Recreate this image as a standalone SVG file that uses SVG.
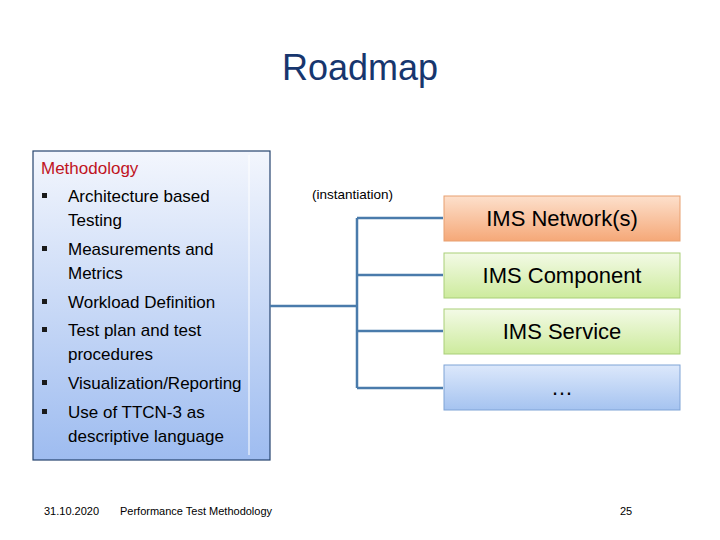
<svg xmlns="http://www.w3.org/2000/svg" width="720" height="540" viewBox="0 0 720 540">
<defs>
<linearGradient id="gL" x1="0" y1="0" x2="0" y2="1"><stop offset="0" stop-color="#f3f6fd"/><stop offset="1" stop-color="#9ebcf0"/></linearGradient>
<linearGradient id="gO" x1="0" y1="0" x2="0" y2="1"><stop offset="0" stop-color="#fde0cc"/><stop offset="1" stop-color="#f5a878"/></linearGradient>
<linearGradient id="gG" x1="0" y1="0" x2="0" y2="1"><stop offset="0" stop-color="#f3fae6"/><stop offset="1" stop-color="#cdeb9d"/></linearGradient>
<linearGradient id="gB" x1="0" y1="0" x2="0" y2="1"><stop offset="0" stop-color="#dce8fb"/><stop offset="1" stop-color="#a5c3f0"/></linearGradient>
</defs>
<style>
text{font-family:"Liberation Sans",Arial,sans-serif;fill:#000}
.li{font-size:17px}
.bx{font-size:22px;text-anchor:middle}
.c{stroke:#4a7bab;stroke-width:2.5;fill:none}
.bu{fill:#1a1a1a}
</style>
<rect width="720" height="540" fill="#fff"/>
<text x="360" y="80" font-size="36" text-anchor="middle" style="fill:#17366e">Roadmap</text>
<g id="methodology">
<rect x="33" y="151" width="237" height="309" fill="url(#gL)" stroke="#26446e" stroke-width="1.2"/>
<line x1="249" y1="155" x2="249" y2="455" stroke="#fff" stroke-width="1"/>
<text x="41" y="174" class="li" style="fill:#c0141e">Methodology</text>
<rect class="bu" x="42" y="193" width="5" height="5"/><text x="68" y="202" class="li">Architecture based</text><text x="68" y="226" class="li">Testing</text>
<rect class="bu" x="42" y="246" width="5" height="5"/><text x="68" y="255" class="li">Measurements and</text><text x="68" y="279" class="li">Metrics</text>
<rect class="bu" x="42" y="299" width="5" height="5"/><text x="68" y="308" class="li">Workload Definition</text>
<rect class="bu" x="42" y="327" width="5" height="5"/><text x="68" y="336" class="li">Test plan and test</text><text x="68" y="360" class="li">procedures</text>
<rect class="bu" x="42" y="380" width="5" height="5"/><text x="68" y="389" class="li">Visualization/Reporting</text>
<rect class="bu" x="42" y="409" width="5" height="5"/><text x="68" y="418" class="li">Use of TTCN-3 as</text><text x="68" y="442" class="li">descriptive language</text>
</g>
<g id="connectors">
<path class="c" d="M270 306H357M357 218V388M357 218H443M357 275H443M357 331H443M357 388H443"/>
</g>
<text x="312" y="199" font-size="13.5">(instantiation)</text>
<g id="n1"><rect x="444" y="196" width="236" height="45" fill="url(#gO)" stroke="#e8a070"/><text x="562" y="226" class="bx">IMS Network(s)</text></g>
<g id="n2"><rect x="444" y="253" width="236" height="45" fill="url(#gG)" stroke="#a9cf78"/><text x="562" y="283" class="bx">IMS Component</text></g>
<g id="n3"><rect x="444" y="309" width="236" height="45" fill="url(#gG)" stroke="#a9cf78"/><text x="562" y="339" class="bx">IMS Service</text></g>
<g id="n4"><rect x="444" y="365" width="236" height="45" fill="url(#gB)" stroke="#7fa3d6"/><text x="562" y="395" class="bx">…</text></g>
<text x="44" y="515" font-size="11">31.10.2020</text>
<text x="120" y="515" font-size="11">Performance Test Methodology</text>
<text x="626" y="515" font-size="11" text-anchor="middle">25</text>
</svg>
